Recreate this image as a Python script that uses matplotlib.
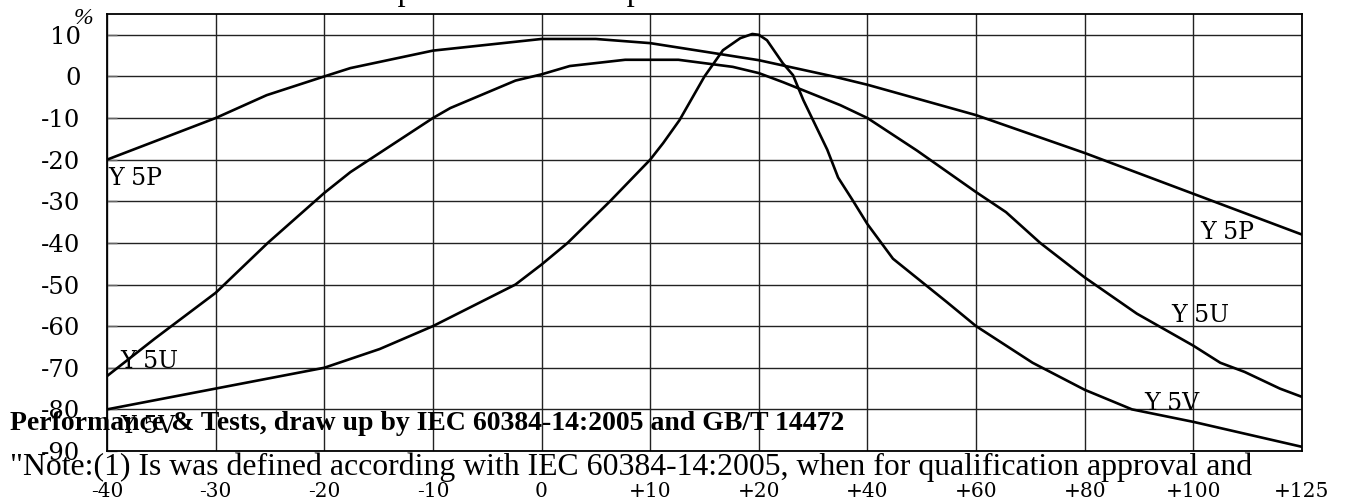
import matplotlib
matplotlib.use("Agg")
import matplotlib.pyplot as plt
import numpy as np

plt.rcParams['font.family'] = ['Liberation Serif', 'DejaVu Serif']

# x axis is categorical in temperature (uneven steps)
tick_temps = [-40, -30, -20, -10, 0, 10, 20, 40, 60, 80, 100, 125]
tick_labels = ['-40', '-30', '-20', '-10', '0', '+10', '+20', '+40', '+60', '+80', '+100', '+125']
y_ticks = [10, 0, -10, -20, -30, -40, -50, -60, -70, -80, -90]

# capacitance change (%) vs temperature (degC)
y5p_t = [-40, -30, -25.3, -20, -17.6, -10, 0, 5, 10, 14.9, 20, 33.7, 40, 60, 80, 100, 125]
y5p_v = [-20, -10, -4.5, 0, 2, 6.2, 9, 9, 8, 6, 3.9, 0, -2, -9.3, -18.4, -28.2, -38]

y5u_t = [-40, -35.6, -30, -25.2, -20, -17.6, -10, -8.4, -2.4, 0, 2.6, 7.7, 12.6, 17.6, 20,
         24.5, 35, 40, 49.1, 60, 65.5, 71.8, 80, 89.6, 100, 106.2, 111.8, 119.9, 125]
y5u_v = [-72, -63, -52, -40, -28, -23, -10, -7.6, -1, 0.5, 2.5, 4, 4, 2.3, 0.8,
         -1.4, -6.9, -10, -17.8, -27.8, -32.6, -40, -48.3, -57, -64.7, -68.8, -71, -75, -77]

y5v_t = [-40, -30, -20, -14.9, -10, -2.4, 0, 2.4, 6.3, 10, 11.2, 12.7, 15, 16.7, 18.3, 19.4, 20,
         21.5, 24.4, 26.3, 28.2, 32.6, 34.6, 37.2, 40, 44.7, 54.6, 60, 70.4, 80, 88.7, 100, 125]
y5v_v = [-80, -75, -70, -65.5, -60, -50, -45.2, -40, -30, -20, -16, -10.5, 0, 6.3, 9.2, 10.2, 10,
         8.7, 3.2, 0.3, -5.7, -17.6, -24.3, -29.6, -35.5, -43.8, -54.2, -60, -68.8, -75.3, -80, -83, -89]


def pos(t):
    return np.interp(t, tick_temps, np.arange(len(tick_temps)))


fig = plt.figure(figsize=(13.48, 4.99), dpi=100)
ax = fig.add_axes([107 / 1348, 1 - 451 / 499, (1302 - 107) / 1348, (451 - 14) / 499])

for t, v in [(y5p_t, y5p_v), (y5u_t, y5u_v), (y5v_t, y5v_v)]:
    ax.plot(pos(t), v, color='black', lw=1.9, zorder=3)

ax.set_xlim(0, len(tick_temps) - 1)
ax.set_ylim(-90, 15)
ax.set_xticks(np.arange(len(tick_temps)))
ax.set_xticklabels(tick_labels, fontsize=14.5, family='DejaVu Serif')
ax.set_yticks(y_ticks)
ax.set_yticklabels([str(v) for v in y_ticks], fontsize=17.5, family='DejaVu Serif')
ax.tick_params(axis='x', length=0, pad=22)
ax.tick_params(axis='y', direction='in', length=7, pad=19, width=1, color='#666666')
ax.grid(True, color='#222222', lw=1)
for s in ax.spines.values():
    s.set_linewidth(1.3)

# curve labels
lab = dict(fontsize=17, color='black', va='center', ha='left', family='DejaVu Serif')
ax.text(pos(-40) + 0.01, -24.5, 'Y 5P', **lab)
ax.text(pos(100) + 0.06, -37.5, 'Y 5P', **lab)
ax.text(pos(80) + 0.8, -57.5, 'Y 5U', **lab)
ax.text(pos(-40) + 0.12, -68.5, 'Y 5U', **lab)
ax.text(pos(80) + 0.55, -78.5, 'Y 5V', **lab)
ax.text(pos(-40) + 0.12, -84, 'Y 5V', **lab)

fig.text(83 / 1348, 1 - 18 / 499, '%', fontsize=17, style='italic', ha='center', va='center')
fig.text(362 / 1348, 1.0, 'Capacitance vs. Temperature', fontsize=23,
         ha='left', va='baseline')

fig.text(10 / 1348, 1 - 430 / 499, 'Performance & Tests, draw up by IEC 60384-14:2005 and GB/T 14472',
         fontsize=20, fontweight='bold', ha='left', va='baseline')
fig.text(10 / 1348, 1 - 475 / 499,
         '"Note:(1) Is was defined according with IEC 60384-14:2005, when for qualification approval and',
         fontsize=22.9, ha='left', va='baseline')

fig.savefig('out.png', dpi=100)
